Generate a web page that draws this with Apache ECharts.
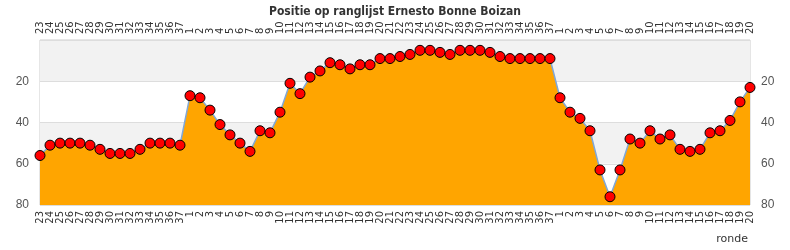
<!DOCTYPE html>
<html>
<head>
<meta charset="utf-8">
<script src="https://cdn.jsdelivr.net/npm/echarts@6/dist/echarts.min.js"></script>
<style>html,body{margin:0;padding:0;background:#fff}#c{width:790px;height:250px}</style>
</head>
<body>
<div id="c"></div>
<script>
var rounds = ['23','24','25','26','27','28','29','30','31','32','33','34','35','36','37',
  '1','2','3','4','5','6','7','8','9','10','11','12','13','14','15','16','17','18','19','20',
  '21','22','23','24','25','26','27','28','29','30','31','32','33','34','35','36','37',
  '1','2','3','4','5','6','7','8','9','10','11','12','13','14','15','16','17','18','19','20'];
var positions = [56,51,50,50,50,51,53,55,55,55,53,50,50,50,51,
  27,28,34,41,46,50,54,44,45,35,21,26,18,15,11,12,14,12,12,9,9,8,7,5,5,6,7,5,5,5,6,8,9,9,9,9,9,
  28,35,38,44,63,76,63,48,50,44,48,46,53,54,53,45,44,39,30,23];
var yTicks = [0,20,40,60,80];
var titleText = 'Positie op ranglijst Ernesto Bonne Boizan';
var xName = 'ronde';

var chart = echarts.init(document.getElementById('c'), null, {renderer:'canvas'});
var xLabel = {interval:0, rotate:90, fontSize:10, color:'#333', fontFamily:'DejaVu Sans', margin:6};
var yLabel = {fontSize:12, color:'#555', fontFamily:'Liberation Sans', margin:11,
  formatter:function(v){return v===0?'':v;}};
chart.setOption({
  animation:false,
  title:[{text:titleText, left:'center', top:1,
    textStyle:{fontSize:12, fontWeight:'bold', color:'#333', fontFamily:'DejaVu Sans Condensed'}},
    {text:xName, right:37, top:229, textStyle:{fontSize:11, fontWeight:'normal', color:'#333', fontFamily:'DejaVu Sans'}}],
  grid:{left:40, right:40, top:40, bottom:45, show:true, borderColor:'#ccc', borderWidth:1, backgroundColor:'transparent'},
  xAxis:[
    {type:'category', data:rounds, position:'bottom', boundaryGap:false,
      axisLine:{show:false}, axisTick:{show:false}, axisLabel:xLabel},
    {type:'category', data:rounds, position:'top', boundaryGap:false,
      axisLine:{show:false}, axisTick:{show:false}, axisLabel:xLabel}
  ],
  yAxis:[
    {type:'value', inverse:true, min:yTicks[0], max:yTicks[yTicks.length-1], interval:20, position:'left',
      axisLine:{show:false}, axisTick:{show:false}, axisLabel:yLabel,
      splitLine:{show:true, lineStyle:{color:'#ddd', width:1}},
      splitArea:{show:true, areaStyle:{color:['#f2f2f2','#ffffff']}}},
    {type:'value', inverse:true, min:yTicks[0], max:yTicks[yTicks.length-1], interval:20, position:'right',
      axisLine:{show:false}, axisTick:{show:false}, axisLabel:yLabel,
      splitLine:{show:false}, splitArea:{show:false}}
  ],
  series:[{
    type:'line', data:positions, xAxisIndex:0, yAxisIndex:0,
    symbol:'circle', symbolSize:10, showAllSymbol:true,
    itemStyle:{color:'#ff0000', borderColor:'#000', borderWidth:1},
    lineStyle:{color:'#7fa7d8', width:1.5},
    areaStyle:{color:'#ffa500', opacity:1, origin:'end'}
  }]
});
</script>
</body>
</html>
